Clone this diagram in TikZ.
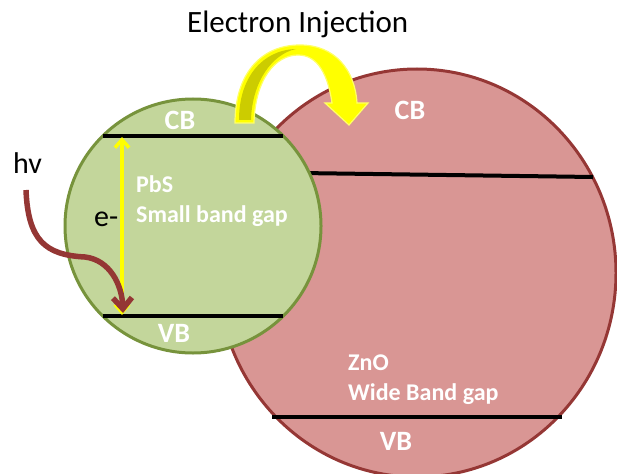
\documentclass[tikz,border=0pt]{standalone}
\usepackage{fontspec}
\setmainfont{Carlito}
\usetikzlibrary{arrows.meta}
\definecolor{gfill}{HTML}{C3D69B}
\definecolor{gline}{HTML}{77933C}
\definecolor{pfill}{HTML}{D99694}
\definecolor{pline}{HTML}{953735}
\definecolor{yel}{HTML}{FFFF00}
\definecolor{yeldark}{HTML}{CCCC00}
\definecolor{redarrow}{HTML}{943634}
\tikzset{
  band/.style={line width=4pt, black},
  blacktext/.style={inner sep=0pt, text=black, font=\fontsize{30}{35}\selectfont},
  bandlabel/.style={inner sep=0pt, text=white, font=\bfseries\fontsize{28}{33}\selectfont},
  matlabel/.style={inner sep=0pt, text=white, anchor=base west, font=\bfseries\fontsize{24}{28}\selectfont},
}
\begin{document}
\begin{tikzpicture}[x=1pt,y=-1pt]
\useasboundingbox (0,0) rectangle (617,473);
% ZnO ellipse
\draw[fill=pfill, draw=pline, line width=3pt] (417,273) ellipse [x radius=199pt, y radius=204pt];
\coordinate (zcbL) at (300,173);
\coordinate (zcbR) at (593,177);
\coordinate (zvbL) at (272,417);
\coordinate (zvbR) at (562,417);
\draw[band] (zcbL) -- (zcbR);
\draw[band] (zvbL) -- (zvbR);
% PbS ellipse
\draw[fill=gfill, draw=gline, line width=3pt] (193,226) ellipse [x radius=128pt, y radius=127pt];
\coordinate (pcbL) at (103,136);
\coordinate (pcbR) at (283,136);
\coordinate (pvbL) at (103,316);
\coordinate (pvbR) at (283,316);
\draw[band] (pcbL) -- (pcbR);
\draw[band] (pvbL) -- (pvbR);
% yellow excitation arrow
\coordinate (ytop) at (122,137);
\coordinate (ybot) at (122,315);
\draw[yel, line width=3.5pt, {Straight Barb[length=8pt,width=14pt]}-{Straight Barb[length=8pt,width=14pt]}] (ytop) -- (ybot);
% photon arrow
\coordinate (hvs) at (26,190);
\coordinate (hve) at (123,313);
\draw[redarrow, line width=5.5pt, -{Straight Barb[length=11pt,width=19pt]}] (hvs) .. controls (28,240) and (45,255) .. (85,257) .. controls (110,260) and (122,285) .. (hve);
% electron injection block arrow
\path[fill=yel, draw=yel!60!white, line width=1.2pt]
  (235,123) .. controls (235,75) and (260,45) .. (300,45)
  .. controls (335,45) and (355,70) .. (357,103)
  -- (368,103) -- (349,125) -- (325,103) -- (332,103)
  .. controls (328,75) and (318,55) .. (298,55)
  .. controls (275,55) and (255,80) .. (254,123) -- cycle;
\path[fill=yeldark]
  (239,120) .. controls (239,78) and (262,50) .. (296,49)
  .. controls (272,54) and (252,82) .. (251,120) -- cycle;
% texts
\node[blacktext, anchor=base west, font=\fontsize{31}{36}\selectfont] (title) at (187,33) {Electron Injection};
\node[blacktext, anchor=base west] (hv) at (13,173) {hv};
\node[blacktext, anchor=base west] (em) at (94,226) {e-};
\node[bandlabel, anchor=base] (gcb) at (180,130) {CB};
\node[bandlabel, anchor=base] (gvb) at (174,342) {VB};
\node[bandlabel, anchor=base] (zcb) at (410,120) {CB};
\node[bandlabel, anchor=base] (zvb) at (396,450) {VB};
\node[matlabel] (pbs) at (136,192) {PbS};
\node[matlabel] (pbs2) at (136,222) {Small band gap};
\node[matlabel] (zno) at (348,370) {ZnO};
\node[matlabel] (zno2) at (348,400) {Wide Band gap};
\end{tikzpicture}
\end{document}
